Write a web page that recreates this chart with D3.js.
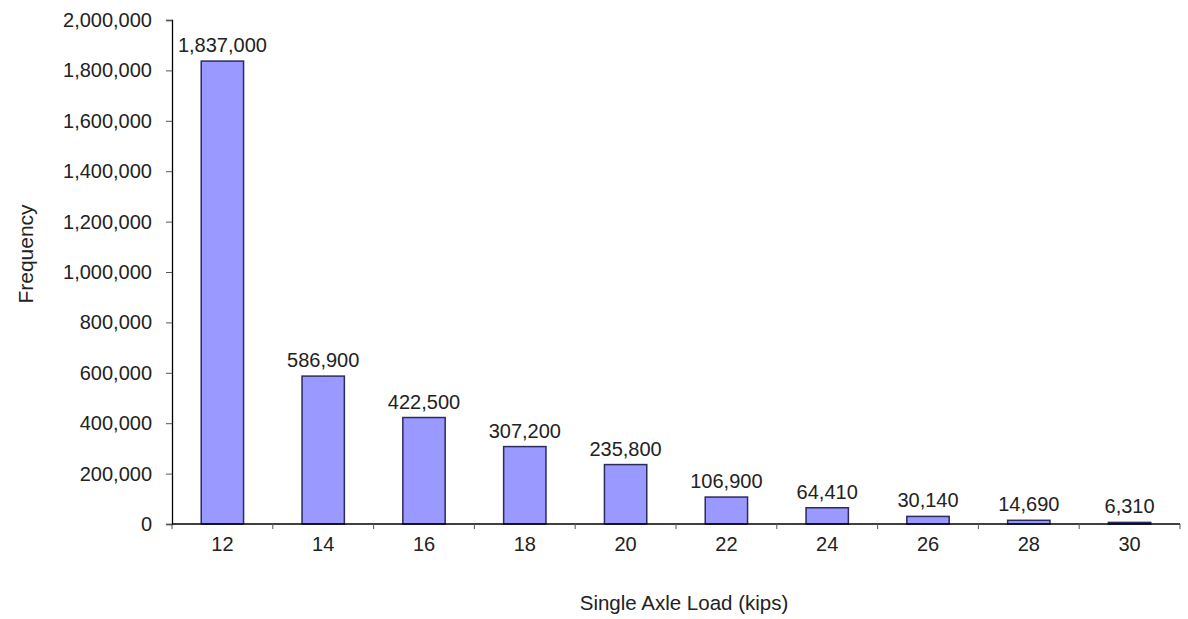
<!DOCTYPE html>
<html>
<head>
<meta charset="utf-8">
<script src="https://cdn.jsdelivr.net/npm/d3@7"></script>
<style>
  body { margin: 0; background: #fff; }
  text { font-family: "Liberation Sans", Arial, sans-serif; fill: #222; }
</style>
</head>
<body>
<div id="chart"></div>
<script>
// single axle load spectrum
const loads = ["12", "14", "16", "18", "20", "22", "24", "26", "28", "30"];
const freqs = [1837000, 586900, 422500, 307200, 235800, 106900, 64410, 30140, 14690, 6310];
const yTicks = [0, 200000, 400000, 600000, 800000, 1000000, 1200000, 1400000, 1600000, 1800000, 2000000];

const width = 1188, height = 619;
const margin = { top: 20, right: 8, bottom: 95, left: 172 };

const svg = d3.select("#chart").append("svg").attr("width", width).attr("height", height);
const g = svg.append("g").attr("transform", `translate(${margin.left},${margin.top})`);
const w = width - margin.left - margin.right, h = height - margin.top - margin.bottom;

const x = d3.scaleBand().domain(loads).range([0, w]).paddingInner(0.58).paddingOuter(0.29);
const y = d3.scaleLinear().domain([0, 2000000]).range([h, 0]);
const fmt = d3.format(",");

// bars
g.selectAll("rect.bar").data(loads).join("rect").attr("class", "bar")
  .attr("x", d => x(d)).attr("width", x.bandwidth())
  .attr("y", (d, i) => y(freqs[i])).attr("height", (d, i) => h - y(freqs[i]))
  .attr("fill", "#9999ff").attr("stroke", "#2b2b5e").attr("stroke-width", 1.5);

// value labels
g.selectAll("text.val").data(loads).join("text").attr("class", "val")
  .attr("x", d => x(d) + x.bandwidth() / 2).attr("y", (d, i) => y(freqs[i]) - 9)
  .attr("text-anchor", "middle").attr("font-size", 20).text((d, i) => fmt(freqs[i]));

// y axis
const yAxis = g.append("g").call(d3.axisLeft(y).tickValues(yTicks).tickFormat(fmt).tickSize(6).tickPadding(14));
yAxis.select(".domain").attr("stroke", "#000").attr("stroke-width", 1.3);
yAxis.selectAll(".tick line").attr("stroke", "#555");
yAxis.selectAll("text").attr("font-size", 20).attr("fill", "#222").attr("font-family", "Liberation Sans, Arial, sans-serif");

// x axis: line, ticks at category boundaries
const xAxis = g.append("g").attr("transform", `translate(0,${h})`);
xAxis.append("line").attr("x1", 0).attr("x2", w).attr("stroke", "#000").attr("stroke-width", 1.3);
const step = x.step();
const bounds = d3.range(loads.length + 1).map(i => i * step);
xAxis.selectAll("line.tk").data(bounds).join("line").attr("class", "tk")
  .attr("x1", d => Math.min(d, w)).attr("x2", d => Math.min(d, w)).attr("y1", 0).attr("y2", 5).attr("stroke", "#555");
xAxis.selectAll("text").data(loads).join("text")
  .attr("x", d => x(d) + x.bandwidth() / 2).attr("y", 27)
  .attr("text-anchor", "middle").attr("font-size", 20).text(d => d);

// axis titles
svg.append("text").attr("x", 684).attr("y", 610).attr("text-anchor", "middle")
  .attr("font-size", 20.5).text("Single Axle Load (kips)");
svg.append("text").attr("transform", "translate(33,254) rotate(-90)").attr("text-anchor", "middle")
  .attr("font-size", 21).text("Frequency");
</script>
</body>
</html>
